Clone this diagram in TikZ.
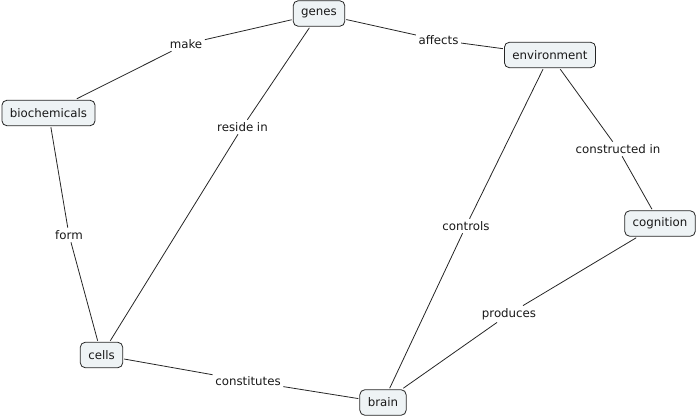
\documentclass[tikz,border=0pt]{standalone}
\usepackage{fontspec}
\setmainfont{DejaVu Sans}
\begin{document}
\begin{tikzpicture}[x=1pt,y=-1pt,
  concept/.style={draw=black!85,fill={rgb,255:red,238;green,243;blue,245},rounded corners=5pt,
    line width=0.8pt,minimum height=25.5pt,inner xsep=8pt,inner ysep=2pt,outer sep=1.5pt,
    font=\fontsize{11.8}{13}\selectfont,text=black!90},
  link/.style={fill=white,inner sep=2.5pt,font=\fontsize{11.8}{13}\selectfont,text=black!90},
  conn/.style={draw=black!85,line width=0.8pt}]
\useasboundingbox (0,0) rectangle (697,417);
\node[concept] (genes) at (319,13.5) {genes};
\node[concept] (bio) at (48.5,113) {biochemicals};
\node[concept] (env) at (550,55) {environment};
\node[concept] (cells) at (101.5,355) {cells};
\node[concept] (brain) at (383,402.5) {brain};
\node[concept] (cog) at (660,223.5) {cognition};
\node[link] (make) at (186,44) {make};
\node[link] (affects) at (438.5,40) {affects};
\node[link] (reside) at (242.5,127) {reside in};
\node[link] (form) at (69,235) {form};
\node[link] (controls) at (466,226) {controls};
\node[link] (constr) at (618,149) {constructed in};
\node[link] (produces) at (509,314) {produces};
\node[link] (constit) at (248,381) {constitutes};
\draw[conn] (genes) -- (make) -- (bio);
\draw[conn] (genes) -- (affects) -- (env);
\draw[conn] (genes) -- (reside) -- (cells);
\draw[conn] (bio) -- (form) -- (cells);
\draw[conn] (env) -- (controls) -- (brain);
\draw[conn] (env) -- (constr) -- (cog);
\draw[conn] (cog) -- (produces) -- (brain);
\draw[conn] (cells) -- (constit) -- (brain);
\end{tikzpicture}
\end{document}
